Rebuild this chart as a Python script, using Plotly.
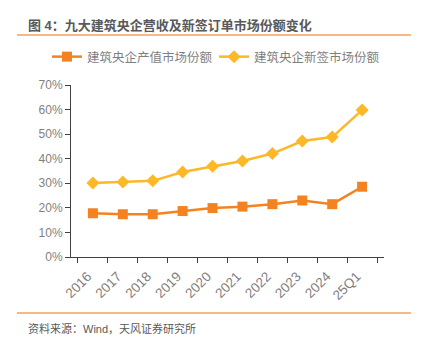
import plotly.graph_objects as go

categories = ["2016", "2017", "2018", "2019", "2020", "2021", "2022", "2023", "2024", "25Q1"]
output_share = [0.178, 0.174, 0.174, 0.187, 0.199, 0.205, 0.215, 0.230, 0.215, 0.286]
contract_share = [0.301, 0.305, 0.310, 0.346, 0.369, 0.391, 0.421, 0.472, 0.488, 0.598]
y_ticks = [0, 0.1, 0.2, 0.3, 0.4, 0.5, 0.6, 0.7]
y_tick_text = ["0%", "10%", "20%", "30%", "40%", "50%", "60%", "70%"]

FONT = "Liberation Sans, Arial, Noto Sans CJK SC"
GRAY = "#7f7f7f"
ORANGE = "#F58220"
YELLOW = "#FDB827"
LINE = "#F5A05A"

fig = go.Figure()
fig.add_trace(go.Scatter(
    x=categories, y=output_share, name="建筑央企产值市场份额",
    mode="lines+markers", legend="legend",
    line=dict(color=ORANGE, width=2.5),
    marker=dict(symbol="square", size=10, color=ORANGE),
))
fig.add_trace(go.Scatter(
    x=categories, y=contract_share, name="建筑央企新签市场份额",
    mode="lines+markers", legend="legend2",
    line=dict(color=YELLOW, width=2.5),
    marker=dict(symbol="diamond", size=10, color=YELLOW),
))

leg_common = dict(orientation="h", yanchor="middle", y=(257 - 57) / 172, xanchor="left",
                  font=dict(size=12.5, color=GRAY, family=FONT), itemwidth=30,
                  bgcolor="rgba(0,0,0,0)")

fig.update_layout(
    width=422, height=338,
    margin=dict(l=71, r=38, t=85, b=81, autoexpand=False),
    paper_bgcolor="white", plot_bgcolor="white",
    font=dict(family=FONT, color=GRAY, size=12),
    showlegend=True,
    legend=dict(x=(47 - 71) / 313, **leg_common),
    legend2=dict(x=(214 - 71) / 313, **leg_common),
    xaxis=dict(
        type="category", tickson="boundaries", ticks="outside", ticklen=5,
        tickcolor="#404040", showline=True, linecolor="#404040", linewidth=1,
        showgrid=False, tickangle=-45, tickfont=dict(size=13.5, color=GRAY),
        tickvals=categories, ticktext=[c + "\u00a0\u00a0" for c in categories],
    ),
    yaxis=dict(
        range=[0, 0.7], tickvals=y_ticks, ticktext=y_tick_text,
        ticks="outside", ticklen=5, tickcolor="#404040",
        showline=True, linecolor="#404040", linewidth=1,
        showgrid=False, zeroline=False, tickfont=dict(size=12, color=GRAY),
    ),
    shapes=[
        dict(type="line", xref="paper", yref="paper", x0=-0.1725, x1=1.086, y0=1.291, y1=1.291,
             line=dict(color=LINE, width=1.5)),
        dict(type="line", xref="paper", yref="paper", x0=-0.1725, x1=1.086, y0=-0.326, y1=-0.326,
             line=dict(color=LINE, width=1.5)),
    ],
    annotations=[
        dict(text="<b>图 4：九大建筑央企营收及新签订单市场份额变化</b>", xref="paper", yref="paper",
             x=-0.1438, y=1.345, xanchor="left", yanchor="middle", showarrow=False,
             font=dict(size=13, color="#595959", family=FONT)),
        dict(text="资料来源：Wind，天风证券研究所", xref="paper", yref="paper",
             x=-0.1438, y=-0.413, xanchor="left", yanchor="middle", showarrow=False,
             font=dict(size=11, color="#595959", family=FONT)),
    ],
)

fig.write_html("out.html")
